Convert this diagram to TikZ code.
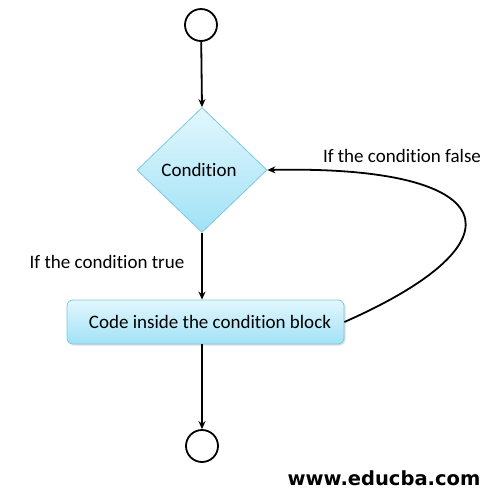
\documentclass[tikz,border=0pt]{standalone}
\usepackage{fontspec}
\setmainfont[Ligatures=NoCommon]{Carlito}
\newfontfamily\wmfont{DejaVu Sans}
\usetikzlibrary{shapes.geometric,arrows.meta,shadows}
\definecolor{edge}{HTML}{7FC8DC}
\definecolor{ftop}{HTML}{E2F7FD}
\definecolor{fbot}{HTML}{A0E2F6}
\tikzset{
  conn/.style={draw=black, line width=1.8pt, -{Stealth[length=8pt,width=7pt]}},
  term/.style={circle, draw=black, line width=1.8pt, minimum size=32pt, inner sep=0pt, fill=white},
  decision/.style={diamond, draw=edge, line width=0.8pt, top color=ftop, bottom color=fbot,
     minimum width=130pt, minimum height=125pt, inner sep=0pt},
  process/.style={rectangle, rounded corners=6pt, draw=edge, line width=0.8pt, top color=ftop, bottom color=fbot,
     minimum width=277pt, minimum height=44pt, inner sep=0pt,
     drop shadow={shadow xshift=1.5pt, shadow yshift=-1.5pt, opacity=0.25}},
  lbl/.style={font=\fontsize{19}{22}\selectfont, inner sep=0pt}
}
\begin{document}
\begin{tikzpicture}[x=1pt,y=-1pt]
\useasboundingbox (0,0) rectangle (496,499);
\node[term] (start) at (201,25) {};
\node[decision] (cond) at (202,170) {};
\node[lbl] (condtxt) at (199,170) {Condition};
\node[process] (code) at (205.5,322) {};
\node[lbl] (codetxt) at (210,322) {Code inside the condition block};
\node[term] (stop) at (202,446) {};
\node[lbl] (ltrue) at (107,262) {If the condition true};
\node[lbl] (lfalse) at (402,156) {If the condition false};
\node[font=\wmfont\bfseries\fontsize{19.5}{22}\selectfont, inner sep=0pt] (wm) at (384,478) {www.educba.com};
\draw[conn] (start) -- (cond.north);
\draw[conn] (cond.south) -- (code.north -| cond.south);
\draw[conn] (code.south -| cond.south) -- (stop);
\draw[conn] (code.east) .. controls (530,240) and (500,165) .. (cond.east);
\end{tikzpicture}
\end{document}
